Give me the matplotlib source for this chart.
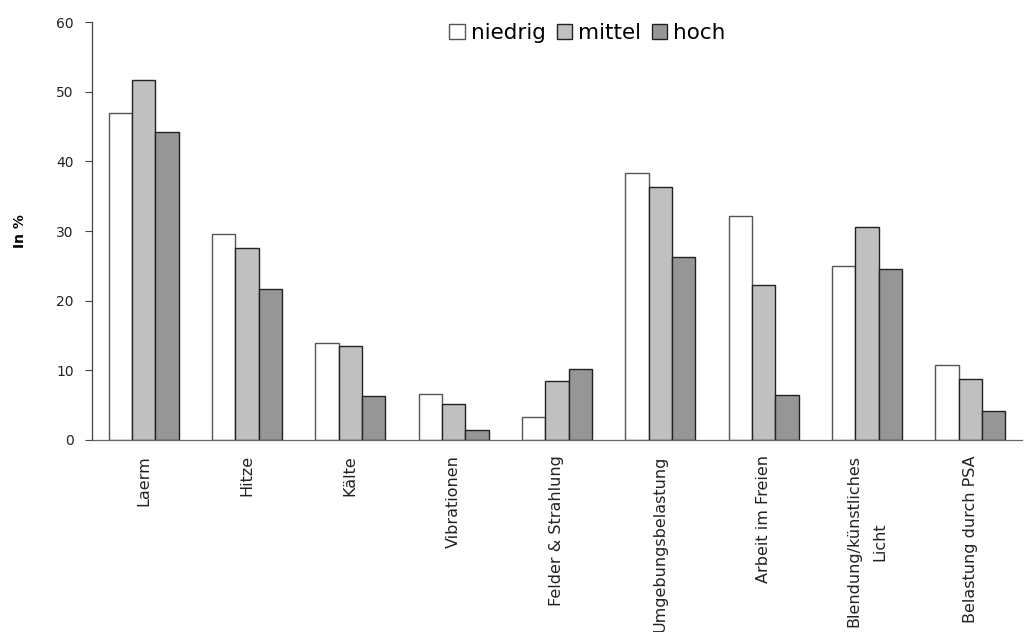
import matplotlib
matplotlib.use("Agg")
import matplotlib.pyplot as plt
import numpy as np

categories = ["Laerm", "Hitze", "Kälte", "Vibrationen", "Felder & Strahlung",
              "Umgebungsbelastung", "Arbeit im Freien", "Blendung/künstliches\nLicht",
              "Belastung durch PSA"]
niedrig = [46.9, 29.6, 13.9, 6.6, 3.3, 38.3, 32.2, 25.0, 10.7]
mittel = [51.7, 27.6, 13.5, 5.2, 8.5, 36.3, 22.2, 30.6, 8.7]
hoch = [44.2, 21.7, 6.3, 1.5, 10.2, 26.3, 6.5, 24.6, 4.2]
series_names = ["niedrig", "mittel", "hoch"]
yticks = [0, 10, 20, 30, 40, 50, 60]

plt.rcParams['font.family'] = ['DejaVu Sans']
fig = plt.figure(figsize=(10.24, 6.32), dpi=100)
ax = fig.add_axes([0.0898, 0.3038, 0.9082, 0.6612])

x = np.arange(len(categories))
w = 0.226
fills = ["#ffffff", "#c0c0c0", "#969696"]
edges = ["#555555", "#222222", "#222222"]
for i, (vals, name) in enumerate(zip([niedrig, mittel, hoch], series_names)):
    ax.bar(x + (i - 1) * w, vals, width=w, color=fills[i], edgecolor=edges[i],
           linewidth=1.0, label=name)

ax.set_xlim(-0.5, len(categories) - 0.5)
ax.set_ylim(0, 60)
ax.set_yticks(yticks)
ax.set_yticklabels([str(t) for t in yticks], fontsize=10, color="#222222")
ax.tick_params(axis='y', length=5, width=0.8, color="#444444", pad=8)
ax.set_xticks(x)
labels = ax.set_xticklabels(categories, rotation=90, fontsize=11.5, color="#222222",
                            ha='center', va='top', multialignment='center')
for lab in labels:
    lab.set_linespacing(1.9)
ax.tick_params(axis='x', length=0, pad=11)
for s in ["top", "right"]:
    ax.spines[s].set_visible(False)
ax.spines["left"].set_color("#444444")
ax.spines["bottom"].set_color("#666666")
ax.spines["left"].set_linewidth(0.9)
ax.spines["bottom"].set_linewidth(0.9)

fig.text(0.02, 0.635, "In %", rotation=90, fontsize=10, fontweight='bold',
         ha='center', va='center')

leg = ax.legend(loc='upper center', bbox_to_anchor=(0.533, 1.045), ncol=3, frameon=False,
                fontsize=15.5, handlelength=0.7, handleheight=0.7, handletextpad=0.3,
                columnspacing=0.5)

fig.savefig("out.png", dpi=100)
